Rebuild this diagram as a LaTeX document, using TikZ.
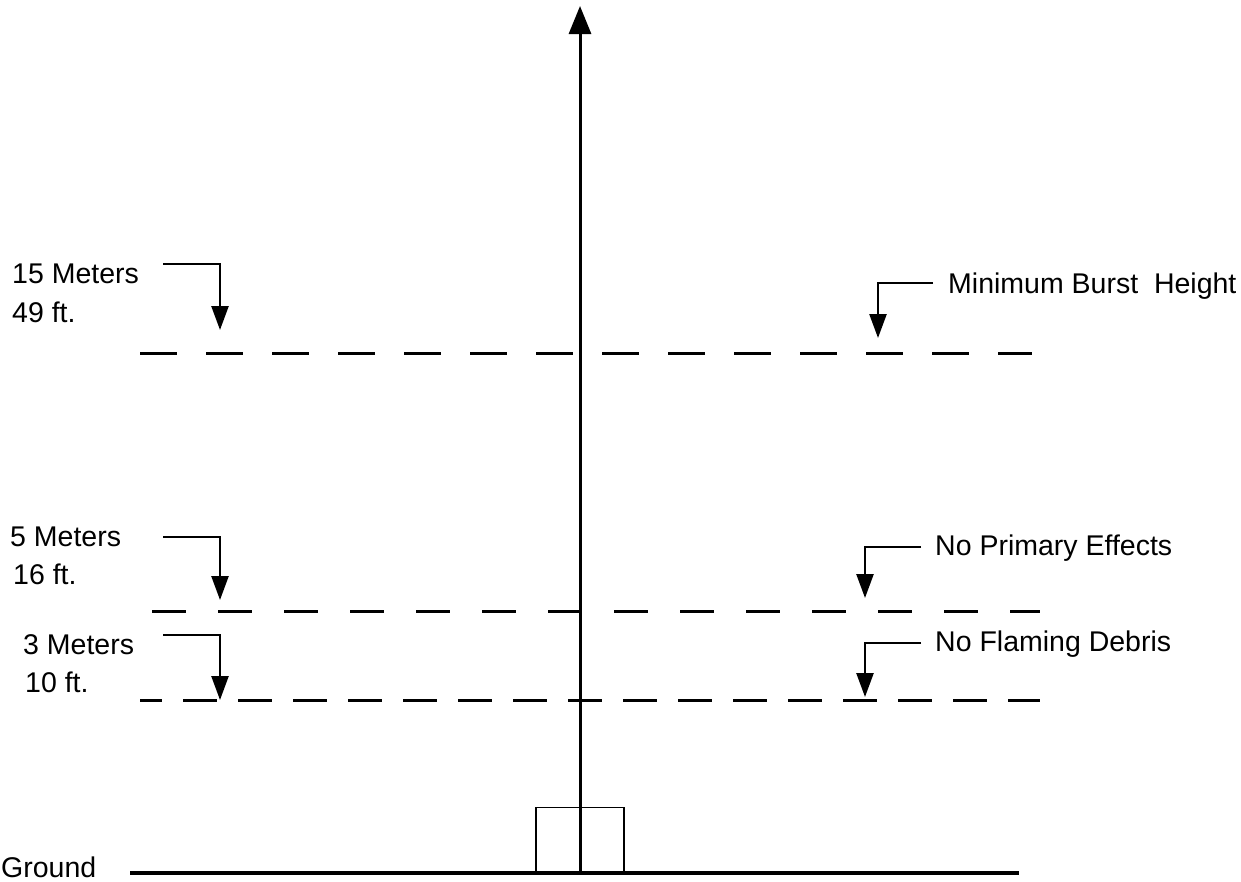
\documentclass[tikz,border=0pt]{standalone}
\usepackage{fontspec}
\setmainfont{Liberation Sans}
\usetikzlibrary{arrows.meta}

\begin{document}
\begin{tikzpicture}[x=1pt, y=-1pt, >={Triangle[length=24pt,width=17pt]},
    every tag/.style={anchor=base west, inner sep=0pt, font=\fontsize{28.5}{34}\selectfont},
    level line/.style={line width=3pt},
    pointer/.style={->, line width=2.5pt}]
  \useasboundingbox (0,0) rectangle (1241,881);

  % ground and post
  \coordinate (ground-w) at (130,873);
  \coordinate (ground-e) at (1019,873);
  \draw [line width=3.5pt] (ground-w) -- (ground-e);
  \node [every tag] (ground) at (1,877) {Ground};
  \node [draw, line width=1.5pt, minimum width=88pt, minimum height=65pt, inner sep=0pt] (post) at (580,840) {};
  \coordinate (axis-foot) at (580,873);
  \coordinate (axis-top) at (580,6);
  \draw [line width=3pt, -{Triangle[length=28pt,width=22pt]}] (axis-foot) -- (axis-top);

  % dashed levels
  \foreach \n/\y/\xe/\on/\off/\ph in {burst/353/1032/37/29/0, primary/611/1040/34/32/54, debris/700/1040/34/21/12} {
    \coordinate (level-\n-w) at (140,\y);
    \coordinate (level-\n-e) at (\xe,\y);
    \draw [level line, dash pattern=on \on pt off \off pt, dash phase=\ph pt] (level-\n-w) -- (level-\n-e);
  }

  % heights
  \node [every tag] (tag-15m) at (12,283) {15 Meters};
  \node [every tag] (tag-49ft) at (12,322) {49 ft.};
  \node [every tag] (tag-5m) at (10,546) {5 Meters};
  \node [every tag] (tag-16ft) at (13,584) {16 ft.};
  \node [every tag] (tag-3m) at (23,654) {3 Meters};
  \node [every tag] (tag-10ft) at (25,692) {10 ft.};

  % effects
  \node [every tag] (tag-burst) at (948,293) {Minimum Burst~ Height};
  \node [every tag] (tag-primary) at (935,555) {No Primary Effects};
  \node [every tag] (tag-debris) at (935,651) {No Flaming Debris};

  \foreach \n/\xs/\ys/\xt/\yt in {15m/163/264/220/330, 5m/163/537/220/600, 3m/163/635/220/700,
      burst/933/283/878/338, primary/921/547/865/598, debris/921/643/865/697} {
    \coordinate (from-\n) at (\xs,\ys);
    \coordinate (to-\n) at (\xt,\yt);
    \draw [pointer] (from-\n) -| (to-\n);
  }
\end{tikzpicture}
\end{document}
